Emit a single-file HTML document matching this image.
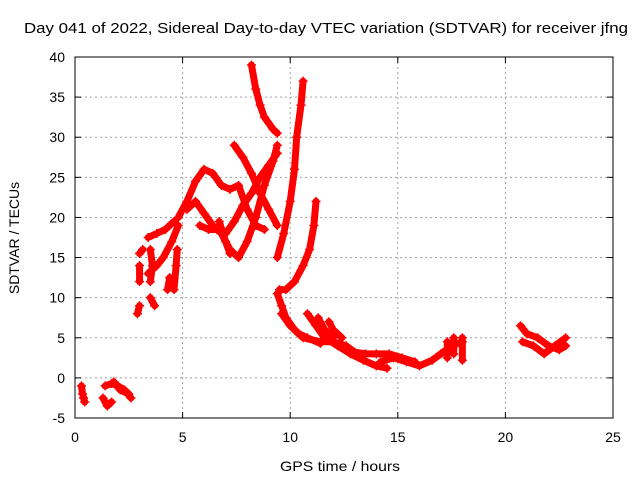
<!DOCTYPE html>
<html><head><meta charset="utf-8"><style>
body{margin:0;background:#fff}
svg{display:block;font-family:"Liberation Sans",sans-serif}
</style></head><body>
<svg id="chart" width="640" height="480">
<text x="326" y="33" font-size="15" text-anchor="middle" textLength="604" lengthAdjust="spacingAndGlyphs">Day 041 of 2022, Sidereal Day-to-day VTEC variation (SDTVAR) for receiver jfng</text>
<text x="340" y="471" font-size="14" text-anchor="middle" textLength="120" lengthAdjust="spacingAndGlyphs">GPS time / hours</text>
<text transform="translate(19,238) rotate(-90)" font-size="14" text-anchor="middle">SDTVAR / TECUs</text>
<g id="grid"></g><g id="marks"></g><g id="axes"></g>
</svg>
<script>
const xTicks=[0,5,10,15,20,25];
const yTicks=[-5,0,5,10,15,20,25,30,35,40];
const tracks=[
[[0.3,-1],[0.35,-2],[0.4,-2.5],[0.45,-3]],
[[1.3,-2.5],[1.5,-3.5],[1.7,-3]],
[[1.4,-1],[1.7,-0.7],[2.0,-1],[2.3,-1.5],[2.6,-2.5]],
[[1.8,-0.5],[2.1,-1.5],[2.5,-2]],
[[2.9,8],[3.0,9]],[[3.0,12],[3.0,14]],[[3.0,15.5],[3.15,16]],
[[3.5,10],[3.7,9]],
[[3.4,13],[3.8,14],[4.1,15],[4.5,17],[4.8,19]],
[[3.4,17.5],[3.8,18],[4.2,18.5],[4.6,19.5]],
[[4.3,11],[4.4,12.5]],[[4.6,11],[4.7,14],[4.75,16]],
[[3.5,12],[3.6,14],[3.5,16]],
[[4.8,20],[5.2,22],[5.6,24.5],[6.0,26],[6.4,25.5],[6.8,24],[7.2,23.5],[7.6,24],[8.0,21],[8.4,19],[8.8,18.5]],
[[5.2,21],[5.6,22],[6.0,20.5],[6.4,19],[6.8,18],[7.2,16],[7.6,15],[8.0,17],[8.4,20],[8.8,24],[9.2,27],[9.4,29]],
[[5.8,19],[6.2,18.5],[6.6,18.5],[7.0,18],[7.4,19.5],[7.8,21.5],[8.2,23],[8.6,25],[9.0,26.5],[9.4,28]],
[[7.4,29],[7.8,27.5],[8.2,25.5],[8.6,23],[9.0,21],[9.4,19]],
[[6.7,19.5],[7.0,17],[7.2,15.5]],
[[8.2,39],[8.4,36],[8.6,34],[8.8,32.5],[9.2,31],[9.4,30.5]],
[[9.4,15],[9.7,18],[10.0,22],[10.2,26],[10.3,30],[10.5,34],[10.6,37]],
[[9.5,11],[9.8,11],[10.2,12],[10.6,14],[10.9,16],[11.1,19],[11.2,22]],
[[9.4,10.5],[9.6,9],[9.8,7.5],[10.2,6],[10.6,5],[11.4,4.5],[12.0,4.5],[12.6,4],[13.0,3.2],[13.5,3],[14.0,3],[14.6,3],[15.2,2.5],[15.8,2]],
[[9.6,8],[10.0,6.5],[10.4,5.5],[10.8,5],[11.4,4.3]],
[[10.8,8],[11.2,6.5],[11.6,5],[12.2,4],[12.8,3],[13.4,2.2],[14.0,1.5],[14.5,1.2]],
[[11.3,7.5],[11.6,6],[12.0,5]],
[[11.8,7],[12.0,6],[12.4,5]],
[[14.2,2],[14.8,2.5],[15.4,2],[16.0,1.5],[16.6,2.2],[17.0,3],[17.5,4],[18.0,4.5]],
[[17.3,2.5],[17.3,4.5]],[[18.0,2.2],[18.0,5]],[[17.6,3],[17.6,5]],
[[20.7,6.5],[21.0,5.5],[21.5,5],[22.0,4],[22.5,3.5],[22.8,4]],
[[20.8,4.5],[21.3,4],[21.8,3],[22.3,4],[22.8,5]]
];
const L=75,R=613,T=57,B=418;
const sx=v=>L+(v-0)/25*(R-L), sy=v=>B-(v+5)/45*(B-T);
const NS="http://www.w3.org/2000/svg";
function mk(tag,attrs,parent){const e=document.createElementNS(NS,tag);for(const k in attrs)e.setAttribute(k,attrs[k]);parent.appendChild(e);return e;}
const grid=document.getElementById('grid'),axes=document.getElementById('axes'),marks=document.getElementById('marks');
xTicks.forEach(t=>{const x=sx(t);
 if(t>0&&t<25){const g=mk('line',{x1:x,x2:x,y1:T,y2:B,stroke:'#a0a0a0','stroke-dasharray':'2,3'},grid);
 
 }
 mk('line',{x1:x,x2:x,y1:B,y2:B-6,stroke:'#000'},axes);mk('line',{x1:x,x2:x,y1:T,y2:T+6,stroke:'#000'},axes);
 const tx=mk('text',{x:x,y:B+24,'font-size':14,'text-anchor':'middle'},axes);tx.textContent=t;
 
 });
yTicks.forEach(t=>{const y=sy(t);
 if(t>-5&&t<40){const g=mk('line',{x1:L,x2:R,y1:y,y2:y,stroke:'#a0a0a0','stroke-dasharray':'2,3'},grid);
 
 }
 mk('line',{x1:L,x2:L+6,y1:y,y2:y,stroke:'#000'},axes);mk('line',{x1:R,x2:R-6,y1:y,y2:y,stroke:'#000'},axes);
 const tx=mk('text',{x:L-10,y:y+5,'font-size':14,'text-anchor':'end'},axes);tx.textContent=t;
 
 });
const fr=mk('rect',{x:L,y:T,width:R-L,height:B-T,fill:'none',stroke:'#000'},axes);


tracks.forEach(tr=>{
 const pl=mk('polyline',{points:tr.map(p=>sx(p[0])+','+sy(p[1])).join(' '),fill:'none',stroke:'#ff0000','stroke-width':7,'stroke-linejoin':'round','stroke-linecap':'round'},marks);
 
 
 tr.forEach(p=>{const x=sx(p[0]),y=sy(p[1]);
  const m=mk('path',{d:`M${x-4.5},${y}H${x+4.5}M${x},${y-4.5}V${y+4.5}`,stroke:'#ff0000','stroke-width':1.5},marks);
  
  });
});
</script>
</body></html>
